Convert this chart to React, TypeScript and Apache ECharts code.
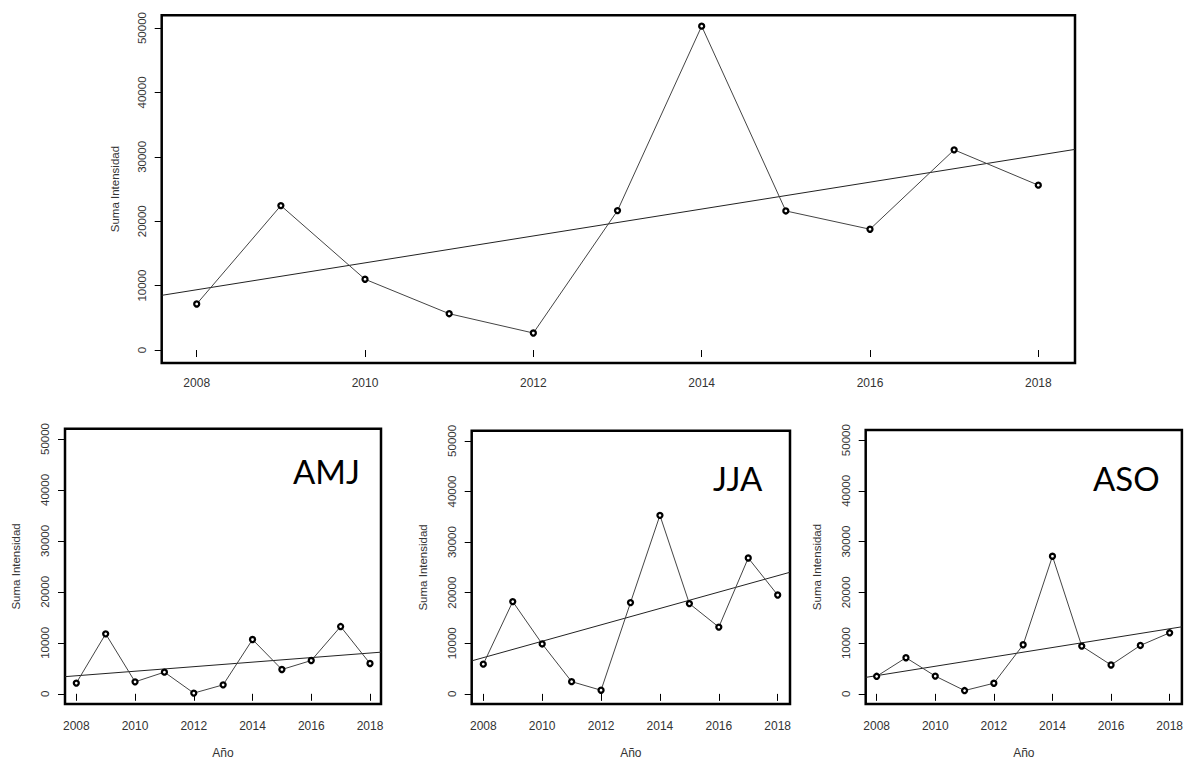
import React, { useEffect, useRef } from "react";
import * as echarts from "echarts";

const years = [2008, 2009, 2010, 2011, 2012, 2013, 2014, 2015, 2016, 2017, 2018];
const totalValues = [7150, 22430, 10990, 5640, 2640, 21650, 50300, 21600, 18760, 31090, 25600];
const amjValues = [2100, 11760, 2350, 4250, 140, 1760, 10650, 4770, 6530, 13200, 5950];
const jjaValues = [5880, 18240, 9870, 2420, 720, 18040, 35290, 17840, 13200, 26860, 19540];
const asoValues = [3460, 7120, 3500, 650, 2090, 9670, 27120, 9410, 5690, 9540, 12030];
const xTickLabels = [2008, 2010, 2012, 2014, 2016, 2018];
const yTickLabels = [0, 10000, 20000, 30000, 40000, 50000];
const panelLabels = ["", "AMJ", "JJA", "ASO"];
const yName = "Suma Intensidad";
const xName = "Año";

const panels = [
  { values: totalValues, left: 161.7, top: 15.2, width: 913.3, height: 347.7, xMin: 2007.584, xMax: 2018.436, xName: "", labelMargin: 14, nameGap: 40, textX: 0, textY: 0 },
  { values: amjValues, left: 65, top: 428.8, width: 316, height: 275.4, xMin: 2007.615, xMax: 2018.375, xName: xName, labelMargin: 16, nameGap: 43, textX: 293, textY: 454.5 },
  { values: jjaValues, left: 471.7, top: 430.8, width: 318.3, height: 275.4, xMin: 2007.606, xMax: 2018.418, xName: xName, labelMargin: 16, nameGap: 43, textX: 713, textY: 461.5 },
  { values: asoValues, left: 865.7, top: 430.0, width: 317.3, height: 275.4, xMin: 2007.626, xMax: 2018.418, xName: xName, labelMargin: 16, nameGap: 43, textX: 1093, textY: 461.5 },
];

function regression(xs: number[], ys: number[]) {
  const n = xs.length;
  const mx = xs.reduce((a, b) => a + b, 0) / n;
  const my = ys.reduce((a, b) => a + b, 0) / n;
  let sxy = 0;
  let sxx = 0;
  for (let i = 0; i < n; i++) {
    sxy += (xs[i] - mx) * (ys[i] - my);
    sxx += (xs[i] - mx) * (xs[i] - mx);
  }
  const b = sxy / sxx;
  return (x: number) => my + b * (x - mx);
}

const FONT = "Liberation Sans, Arial, sans-serif";
const TXT = "#333";

export default function App() {
  const ref = useRef<HTMLDivElement>(null);
  useEffect(() => {
    document.body.style.margin = "0";
    const chart = echarts.init(ref.current!, null, { renderer: "svg" });
    const grid: any[] = [];
    const xAxis: any[] = [];
    const yAxis: any[] = [];
    const series: any[] = [];
    const graphic: any[] = [];
    panels.forEach((p, i) => {
      grid.push({
        left: p.left,
        top: p.top,
        width: p.width,
        height: p.height,
        show: true,
        borderColor: "#000",
        borderWidth: 2.5,
        backgroundColor: "transparent",
      });
      xAxis.push({
        type: "value",
        gridIndex: i,
        min: p.xMin,
        max: p.xMax,
        splitLine: { show: false },
        axisLine: { show: false },
        axisTick: { show: true, length: 7, lineStyle: { color: "#000", width: 1 }, customValues: xTickLabels },
        axisLabel: { customValues: xTickLabels, margin: p.labelMargin, fontSize: 12, color: TXT, fontFamily: FONT, formatter: (v: number) => String(v) },
        name: p.xName,
        nameLocation: "middle",
        nameGap: p.nameGap,
        nameTextStyle: { fontSize: 12, color: TXT, fontFamily: FONT },
      });
      yAxis.push({
        type: "value",
        gridIndex: i,
        min: -2000,
        max: 52000,
        splitLine: { show: false },
        axisLine: { show: false },
        axisTick: { show: true, length: 7, lineStyle: { color: "#000", width: 1 }, customValues: yTickLabels },
        axisLabel: { customValues: yTickLabels, rotate: 90, margin: 14, fontSize: 11.5, color: TXT, fontFamily: FONT, formatter: (v: number) => String(v) },
        name: yName,
        nameLocation: "middle",
        nameRotate: 90,
        nameGap: i === 0 ? 41 : 43,
        nameTextStyle: { fontSize: 11.5, color: TXT, fontFamily: FONT },
      });
      const f = regression(years, p.values);
      series.push({
        type: "line",
        xAxisIndex: i,
        yAxisIndex: i,
        data: [
          [p.xMin, f(p.xMin)],
          [p.xMax, f(p.xMax)],
        ],
        showSymbol: false,
        symbol: "none",
        lineStyle: { color: "#222", width: 1 },
        silent: true,
        z: 2,
      });
      series.push({
        type: "line",
        xAxisIndex: i,
        yAxisIndex: i,
        data: years.map((y, k) => [y, p.values[k]]),
        symbol: "circle",
        symbolSize: 5,
        showAllSymbol: true,
        itemStyle: { color: "#fff", borderColor: "#000", borderWidth: 2.3 },
        lineStyle: { color: "#444", width: 1 },
        z: 3,
      });
      if (panelLabels[i]) {
        graphic.push({
          type: "text",
          left: p.textX,
          top: p.textY,
          style: { text: panelLabels[i], fontSize: 33, fontFamily: "Lato, 'Open Sans', sans-serif", fill: "#000" },
        });
      }
    });
    chart.setOption({
      animation: false,
      backgroundColor: "#fff",
      grid,
      xAxis,
      yAxis,
      series,
      graphic,
    });
    return () => chart.dispose();
  }, []);
  return <div ref={ref} style={{ width: 1186, height: 760 }} />;
}
